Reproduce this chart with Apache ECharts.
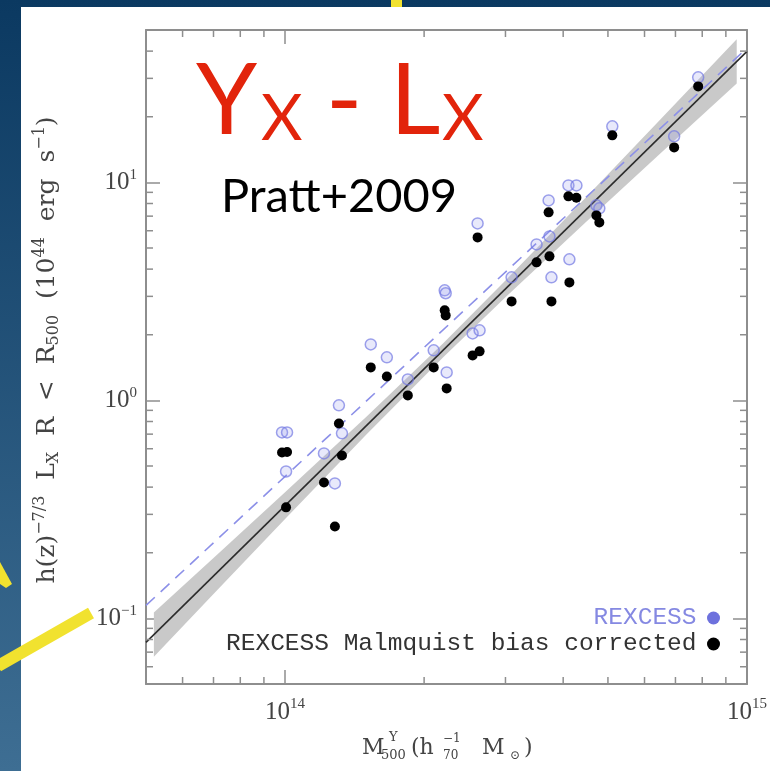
<!DOCTYPE html>
<html><head><meta charset="utf-8">
<script src="https://cdn.jsdelivr.net/npm/echarts@6/dist/echarts.min.js"></script>
<style>html,body{margin:0;padding:0;background:#fff;overflow:hidden}#c{width:770px;height:771px}</style>
</head><body><div id="c"></div>
<script>
// ---- data ----
const clusterMass = [9.85e13,1.01e14,1.005e14,1.214e14,1.282e14,1.308e14,1.328e14,1.533e14,1.661e14,1.844e14,2.098e14,2.238e14,2.216e14,2.227e14,2.547e14,2.637e14,2.611e14,3.093e14,3.503e14,3.736e14,3.72e14,3.773e14,4.126e14,4.106e14,4.273e14,4.72e14,4.79e14,5.11e14,6.955e14,7.84e14];
const lumRexcess = [0.713,0.713,0.472,0.571,0.416,0.949,0.706,1.806,1.575,1.248,1.696,1.344,3.196,3.1,2.029,2.095,6.485,3.667,5.195,5.652,8.268,3.667,4.434,9.687,9.687,7.845,7.6,18.07,16.26,30.32];
const lumCorrected = [0.577,0.58,0.323,0.42,0.264,0.784,0.559,1.417,1.288,1.054,1.417,1.135,2.588,2.454,1.608,1.678,5.593,2.845,4.296,4.577,7.285,2.845,3.477,8.627,8.5,7.057,6.553,16.43,14.47,27.56];
const fitMass = [5e13, 1e15];
const fitRexcess = [0.1147, 41.3];
const fitCorrected = [0.0776, 39.9];
const bandMass = [5.2e13, 7e13, 1e14, 1.5e14, 2.2e14, 3e14, 4.5e14, 6.5e14, 9.5e14];
const bandUpper = [0.1063, 0.189, 0.379, 0.841, 1.828, 3.543, 8.612, 19.48, 45.3];
const bandLower = [0.0667, 0.1295, 0.286, 0.697, 1.578, 2.975, 6.624, 13.60, 28.4];
const xMinorTicks = [6e13,7e13,8e13,9e13,2e14,3e14,4e14,5e14,6e14,7e14,8e14,9e14];
const yMinorTicks = [0.06,0.07,0.08,0.09,0.2,0.3,0.4,0.5,0.6,0.7,0.8,0.9,2,3,4,5,6,7,8,9,20,30,40];
const X_MIN = 5e13, X_MAX = 1e15, Y_MIN = 0.05, Y_MAX = 50;
const seriesNames = ['REXCESS', 'REXCESS Malmquist bias corrected'];

// ---- styles ----
const AX = '#8e8e8e';
const TXT = '#444444';
const SERIF = 'Liberation Serif';

function powLabel(v) {
  const e = Math.round(Math.log10(v));
  return '{b|10}{s|' + String(e).replace('-', '\u2212') + '}';
}
const richTick = {
  b: {fontFamily: SERIF, fontSize: 25, color: TXT, lineHeight: 30},
  s: {fontFamily: SERIF, fontSize: 15, color: TXT, lineHeight: 14, verticalAlign: 'top'}
};
function axisCommon(extra) {
  return Object.assign({
    type: 'log', logBase: 10,
    axisLine: {show: true, onZero: false, lineStyle: {color: AX, width: 2}},
    axisTick: {show: true, inside: true, length: 14, lineStyle: {color: AX, width: 1.5}},
    splitLine: {show: false}
  }, extra);
}

const chart = echarts.init(document.getElementById('c'), null, {renderer: 'canvas'});

function minorTickSeries(values, isX) {
  return {
    type: 'custom', silent: true, z: 6, clip: false,
    data: values.map(v => isX ? [v, Y_MIN] : [X_MIN, v]),
    renderItem: function (params, api) {
      const v = api.value(isX ? 0 : 1);
      const st = {stroke: AX, lineWidth: 1.5};
      if (isX) {
        const b = api.coord([v, Y_MIN]), t = api.coord([v, Y_MAX]);
        return {type: 'group', children: [
          {type: 'line', shape: {x1: b[0], y1: b[1], x2: b[0], y2: b[1] - 7}, style: st},
          {type: 'line', shape: {x1: t[0], y1: t[1], x2: t[0], y2: t[1] + 7}, style: st}
        ]};
      } else {
        const l = api.coord([X_MIN, v]), r = api.coord([X_MAX, v]);
        return {type: 'group', children: [
          {type: 'line', shape: {x1: l[0], y1: l[1], x2: l[0] + 7, y2: l[1]}, style: st},
          {type: 'line', shape: {x1: r[0], y1: r[1], x2: r[0] - 7, y2: r[1]}, style: st}
        ]};
      }
    }
  };
}

function txt(text, x, y, font, fill, extra) {
  return Object.assign({
    type: 'text', x: x, y: y, z: 50, silent: true,
    style: {text: text, font: font, fill: fill, textAlign: 'left', textVerticalAlign: 'middle', align: 'left', verticalAlign: 'middle'}
  }, extra || {});
}

const RED = '#e2240b';
const option = {
  animation: false,
  grid: {left: 146, right: 21, top: 30, bottom: 87, containLabel: false},
  xAxis: [
    axisCommon({min: X_MIN, max: X_MAX, position: 'bottom',
      axisLabel: {margin: 13, showMinLabel: false, showMaxLabel: true, formatter: powLabel, rich: richTick}}),
    axisCommon({min: X_MIN, max: X_MAX, position: 'top', axisLabel: {show: false}})
  ],
  yAxis: [
    axisCommon({min: Y_MIN, max: Y_MAX, position: 'left',
      axisLabel: {margin: 9, showMinLabel: false, showMaxLabel: false, formatter: powLabel, rich: richTick}}),
    axisCommon({min: Y_MIN, max: Y_MAX, position: 'right', axisLabel: {show: false}})
  ],
  legend: {
    data: [
      {name: seriesNames[0], itemStyle: {color: '#6d71dd', borderWidth: 0, opacity: 1}, textStyle: {color: '#8589e2'}},
      {name: seriesNames[1], itemStyle: {color: '#000', borderWidth: 0, opacity: 1}}
    ],
    orient: 'vertical', align: 'right', right: 50, top: 605, padding: 0,
    itemWidth: 24, itemHeight: 13, itemGap: 0, icon: 'circle', selectedMode: false,
    textStyle: {fontFamily: 'Liberation Mono', fontSize: 24.5, color: '#333333', lineHeight: 26}
  },
  series: [
    {
      type: 'custom', silent: true, z: 1,
      data: [[bandMass[0], bandUpper[0]]],
      renderItem: function (params, api) {
        const pts = [];
        for (let i = 0; i < bandMass.length; i++) pts.push(api.coord([bandMass[i], bandUpper[i]]));
        for (let i = bandMass.length - 1; i >= 0; i--) pts.push(api.coord([bandMass[i], bandLower[i]]));
        return {type: 'polygon', shape: {points: pts}, style: {fill: '#c9c9c9'}};
      }
    },
    {
      type: 'line', silent: true, z: 2, symbol: 'none',
      data: fitMass.map((m, i) => [m, fitRexcess[i]]),
      lineStyle: {color: '#8c90e8', width: 1.6, type: [12, 8]}
    },
    {
      type: 'line', silent: true, z: 2, symbol: 'none',
      data: fitMass.map((m, i) => [m, fitCorrected[i]]),
      lineStyle: {color: '#2c2c2c', width: 1.6}
    },
    {
      name: seriesNames[0], type: 'scatter', z: 3, symbol: 'circle', symbolSize: 11,
      data: clusterMass.map((m, i) => [m, lumRexcess[i]]),
      itemStyle: {color: 'rgba(150,155,236,0.22)', borderColor: 'rgba(115,121,226,0.7)', borderWidth: 1.5, opacity: 1}
    },
    {
      name: seriesNames[1], type: 'scatter', z: 4, symbol: 'circle', symbolSize: 10,
      data: clusterMass.map((m, i) => [m, lumCorrected[i]]),
      itemStyle: {color: '#000', opacity: 1}
    },
    minorTickSeries(xMinorTicks, true),
    minorTickSeries(yMinorTicks, false)
  ],
  graphic: [
    {type: 'rect', z: -20, silent: true, shape: {x: 0, y: 0, width: 770, height: 771},
      style: {fill: {type: 'linear', x: 0, y: 0, x2: 0, y2: 1, colorStops: [{offset: 0, color: '#0b3961'}, {offset: 1, color: '#3e6e93'}]}}},
    {type: 'rect', z: -19, silent: true, shape: {x: 21, y: 7, width: 749, height: 764}, style: {fill: '#ffffff'}},
    {type: 'rect', z: 60, silent: true, shape: {x: 391, y: 0, width: 11, height: 7}, style: {fill: '#f1e22f'}},
    {type: 'line', z: 60, silent: true, shape: {x1: -2, y1: 666, x2: 91, y2: 613}, style: {stroke: '#f1e22f', lineWidth: 12, lineCap: 'butt'}},
    {type: 'polygon', z: 60, silent: true, shape: {points: [[0, 562], [12, 584], [6, 588], [0, 584]]}, style: {fill: '#f1e22f'}},
    // title Yx - Lx
    txt('Y', 196, 102, '98px Lato', RED),
    txt('X', 261, 119, '64px Lato', RED),
    txt('-', 326, 102, '98px Lato', RED),
    txt('L', 390, 102, '98px Lato', RED),
    txt('X', 442, 119, '64px Lato', RED),
    txt('Pratt+2009', 221, 197, '47px Lato', '#000'),
    // y axis title
    {type: 'text', z: 50, x: 47, y: 350, rotation: Math.PI / 2, silent: true,
      style: {
        text: '{n|h(z)}{sup|\u22127/3}{n|  L}{sub|X}{n|  R  <  R}{sub|500}{n|  (10}{sup|44}{n|  erg  s}{sup|\u22121}{n|)}',
        textAlign: 'center', textVerticalAlign: 'middle', align: 'center', verticalAlign: 'middle',
        rich: {
          n: {fontFamily: 'DejaVu Serif', fontSize: 25, fill: TXT, color: TXT, lineHeight: 30},
          sup: {fontFamily: 'DejaVu Serif', fontSize: 16, fill: TXT, color: TXT, lineHeight: 15, verticalAlign: 'top'},
          sub: {fontFamily: 'DejaVu Serif', fontSize: 16, fill: TXT, color: TXT, lineHeight: 15, verticalAlign: 'bottom'}
        }
      }},
    // x axis title
    txt('M', 362, 748, '22px "DejaVu Serif"', TXT),
    txt('Y', 389, 738, '13px "DejaVu Serif"', TXT),
    txt('500', 381, 756, '13px "DejaVu Serif"', TXT),
    txt('(h', 411, 748, '22px "DejaVu Serif"', TXT),
    txt('\u22121', 443, 739, '12px "DejaVu Serif"', TXT),
    txt('70', 443, 756, '12px "DejaVu Serif"', TXT),
    txt('M', 482, 748, '22px "DejaVu Serif"', TXT),
    txt('\u2299', 510, 756, '12px "DejaVu Serif"', TXT),
    txt(')', 524, 748, '22px "DejaVu Serif"', TXT)
  ]
};
chart.setOption(option);
</script></body></html>
